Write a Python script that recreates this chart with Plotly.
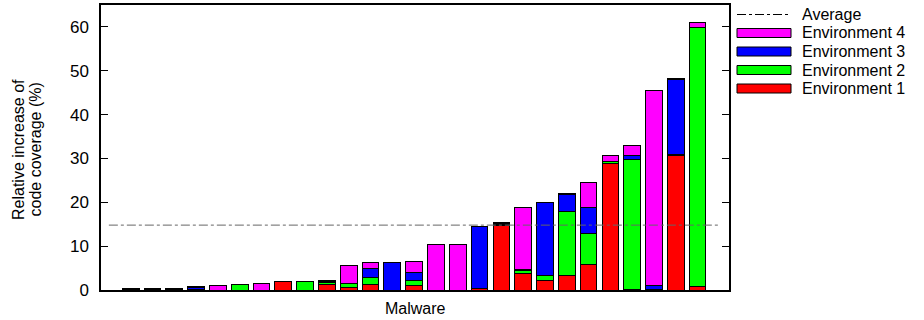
import plotly.graph_objects as go

malware = list(range(1, 28))
env1 = [0.1, 0.1, 0.1, 0.1, 0, 0, 0, 2.0, 0, 1.2, 0.6, 1.15, 0, 1.0, 0, 0, 0.3, 14.8, 3.8, 2.2, 3.4, 5.9, 28.9, 0.1, 0.2, 30.6, 0.9]
env2 = [0.1, 0.1, 0.2, 0.1, 0, 1.2, 0, 0, 2.05, 0.5, 0.9, 1.75, 0, 1.2, 0, 0, 0, 0.1, 0.6, 1.15, 14.55, 6.9, 0.3, 29.7, 0, 0.2, 59.0]
env3 = [0.05, 0.05, 0.05, 0.4, 0, 0, 0, 0, 0, 0.3, 0, 1.9, 6.3, 1.8, 0, 0, 14.1, 0.3, 0.3, 16.65, 3.85, 6.0, 0.2, 0.8, 0.9, 17.1, 0]
env4 = [0.05, 0.05, 0.05, 0.1, 1.0, 0, 1.4, 0, 0, 0.2, 4.2, 1.4, 0, 2.6, 10.3, 10.3, 0, 0.2, 14.2, 0, 0.25, 5.7, 1.3, 2.3, 44.5, 0.3, 1.0]
average = 14.8
avg_x = [0, 28]
y_ticks = [0, 10, 20, 30, 40, 50, 60]

series = [
    ("Environment 1", env1, "#FF0000"),
    ("Environment 2", env2, "#00FF00"),
    ("Environment 3", env3, "#0000FF"),
    ("Environment 4", env4, "#FF00FF"),
]

W, H = 924, 320
L, R, T, B = 101, 195, 5, 30
PW, PH = W - L - R, H - T - B


def px(xp):
    return (xp - L) / PW


def py(yp):
    return (H - B - yp) / PH


fig = go.Figure()
for name, vals, color in series:
    fig.add_trace(go.Bar(
        x=malware, y=vals, name=name, showlegend=False,
        marker=dict(color=color, line=dict(color="black", width=1)),
    ))

fig.add_trace(go.Scatter(
    x=avg_x, y=[average, average], mode="lines", name="Average", showlegend=False,
    line=dict(color="#666666", width=1, dash="dashdot"),
))

font = "Liberation Sans, Arial, sans-serif"
FS = 18
LFS = 16

# custom legend (gnuplot style: wide key samples, tight rows)
shapes = []
annotations = []
legend_rows = [("Average", None, 14.5)] + [
    (name, color, yc) for (name, _, color), yc in zip(reversed(series), [33, 51.5, 70, 88.5])
]
for name, color, yc in legend_rows:
    if color is None:
        shapes.append(dict(type="line", xref="paper", yref="paper",
                           x0=px(737), x1=px(791), y0=py(yc), y1=py(yc),
                           line=dict(color="black", width=1, dash="dashdot")))
    else:
        shapes.append(dict(type="rect", xref="paper", yref="paper",
                           x0=px(737), x1=px(791), y0=py(yc - 4.5), y1=py(yc + 4.5),
                           fillcolor=color, line=dict(color="black", width=1)))
    annotations.append(dict(text=name, xref="paper", yref="paper", x=px(800), y=py(yc),
                            xanchor="left", yanchor="middle", showarrow=False,
                            font=dict(size=LFS, family=font, color="black")))

# axis titles
annotations.append(dict(text="Malware", xref="paper", yref="paper", x=px(415), y=py(308),
                        xanchor="center", yanchor="middle", showarrow=False,
                        font=dict(size=LFS, family=font, color="black")))
for txt, xc in [("Relative increase of", 18), ("code coverage (%)", 34.5)]:
    annotations.append(dict(text=txt, xref="paper", yref="paper", x=px(xc), y=py(150),
                            xanchor="center", yanchor="middle", showarrow=False, textangle=-90,
                            font=dict(size=LFS, family=font, color="black")))

fig.update_layout(
    barmode="stack",
    bargap=0.235,
    width=W, height=H,
    margin=dict(l=L, r=R, t=T, b=B),
    plot_bgcolor="white", paper_bgcolor="white",
    font=dict(family=font, size=FS, color="black"),
    showlegend=False,
    shapes=shapes,
    annotations=annotations,
    xaxis=dict(
        range=[-0.36, 28.44], showticklabels=False, ticks="",
        showline=True, linecolor="black", linewidth=1.5, mirror=True,
        showgrid=False, zeroline=False, automargin=False,
    ),
    yaxis=dict(
        range=[0, 65], tickvals=y_ticks, ticks="inside", ticklen=7,
        tickcolor="black", tickwidth=1, tickfont=dict(size=17),
        showline=True, linecolor="black", linewidth=1.5, mirror="ticks",
        showgrid=False, zeroline=False, ticklabelstandoff=7, automargin=False,
    ),
)

fig.write_html("out.html", config={"displayModeBar": False},
               post_script="document.body.style.margin='0px';")
